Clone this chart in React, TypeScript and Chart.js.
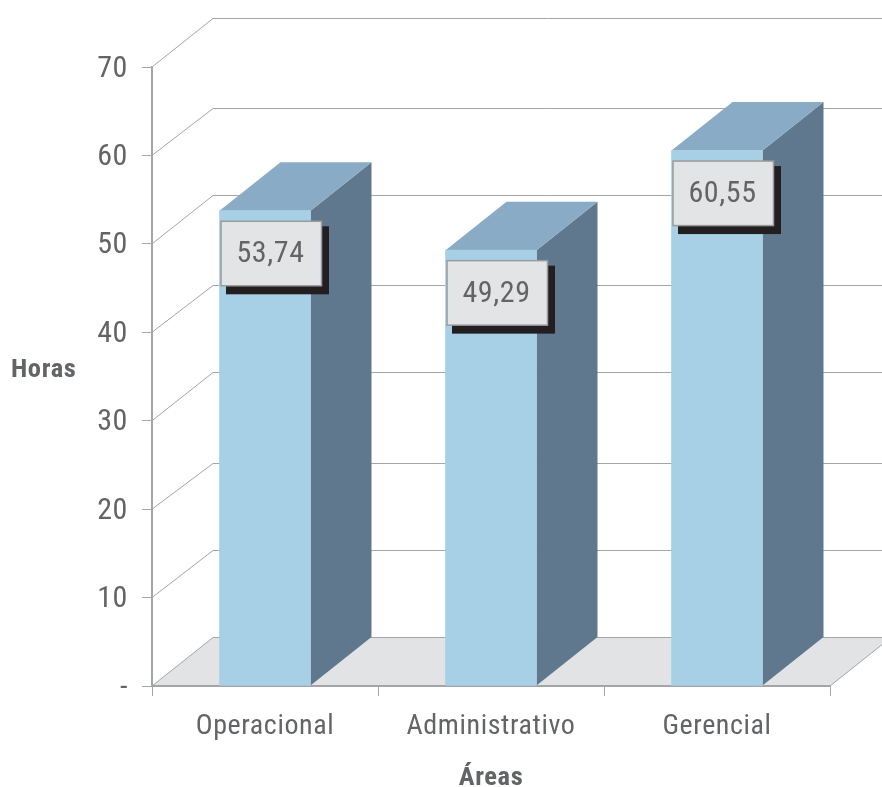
import React, { useEffect, useRef } from "react";
import { Chart, registerables } from "chart.js";

Chart.register(...registerables);

const categories = ["Operacional", "Administrativo", "Gerencial"];
const hours = [53.74, 49.29, 60.55];
const valueLabels = ["53,74", "49,29", "60,55"];
const yTicks = [0, 10, 20, 30, 40, 50, 60, 70];
const wallRise = [49, 47.6, 46, 48.7, 47, 48.8, 47.4, 49];

const FONT = "'Roboto Condensed', 'Liberation Sans', sans-serif";
const TEXT = "#636466";
const LINE = "#a3a5a8";
const DEPTH_X = 61;
const DEPTH_Y = 48.5;

const scene = {
  id: "scene",
  beforeDraw(chart: any) {
    const { ctx, scales } = chart;
    ctx.letterSpacing = "0.6px";
    const y = scales.y;
    const x = scales.x;
    const y0 = y.getPixelForValue(0);
    const W = chart.width;
    ctx.save();
    ctx.fillStyle = "#e2e3e5";
    ctx.beginPath();
    ctx.moveTo(x.left, y0);
    ctx.lineTo(x.left + DEPTH_X, y0 - DEPTH_Y);
    ctx.lineTo(x.right + DEPTH_X, y0 - DEPTH_Y);
    ctx.lineTo(x.right, y0);
    ctx.closePath();
    ctx.fill();
    ctx.strokeStyle = LINE;
    ctx.lineWidth = 1;
    yTicks.forEach((t, i) => {
      const py = y.getPixelForValue(t);
      const wy = Math.round(py - wallRise[i]) + 0.5;
      ctx.beginPath();
      ctx.moveTo(x.left, py);
      ctx.lineTo(x.left + DEPTH_X, wy);
      ctx.lineTo(W, wy);
      ctx.stroke();
    });
    ctx.beginPath();
    ctx.moveTo(x.right, y0);
    ctx.lineTo(x.right + DEPTH_X, y0 - DEPTH_Y);
    ctx.stroke();
    ctx.restore();
  },
  beforeDatasetsDraw(chart: any) {
    const { ctx } = chart;
    const bars = chart.getDatasetMeta(0).data;
    ctx.save();
    bars.forEach((b: any) => {
      const l = b.x - b.width / 2;
      const r = b.x + b.width / 2;
      ctx.fillStyle = "#5f788e";
      ctx.beginPath();
      ctx.moveTo(r, b.y);
      ctx.lineTo(r + DEPTH_X, b.y - DEPTH_Y);
      ctx.lineTo(r + DEPTH_X, b.base - DEPTH_Y);
      ctx.lineTo(r, b.base);
      ctx.closePath();
      ctx.fill();
      ctx.fillStyle = "#8aabc6";
      ctx.beginPath();
      ctx.moveTo(l, b.y);
      ctx.lineTo(l + DEPTH_X, b.y - DEPTH_Y);
      ctx.lineTo(r + DEPTH_X, b.y - DEPTH_Y);
      ctx.lineTo(r, b.y);
      ctx.closePath();
      ctx.fill();
    });
    ctx.restore();
  },
  afterDatasetsDraw(chart: any) {
    const { ctx } = chart;
    const bars = chart.getDatasetMeta(0).data;
    ctx.save();
    bars.forEach((b: any, i: number) => {
      const bx = b.x - 44;
      const by = b.y + 10.5;
      ctx.fillStyle = "#231f20";
      ctx.fillRect(bx + 5, by + 5, 103, 68);
      ctx.fillStyle = "#e3e4e6";
      ctx.strokeStyle = "#9a9b9d";
      ctx.lineWidth = 1.5;
      ctx.fillRect(bx, by, 100.5, 64.5);
      ctx.strokeRect(bx, by, 100.5, 64.5);
      ctx.fillStyle = TEXT;
      ctx.font = `30px ${FONT}`;
      ctx.textAlign = "center";
      ctx.textBaseline = "middle";
      ctx.fillText(valueLabels[i], bx + 49.5, by + 33.5);
    });
    ctx.font = `bold 26.5px ${FONT}`;
    ctx.fillStyle = TEXT;
    ctx.textAlign = "left";
    ctx.textBaseline = "middle";
    ctx.fillText("Horas", 11, 370.5);
    ctx.restore();
  },
};

export default function App() {
  const ref = useRef<HTMLCanvasElement>(null);
  useEffect(() => {
    document.body.style.margin = "0";
    const chart = new Chart(ref.current as HTMLCanvasElement, {
      type: "bar",
      data: {
        labels: categories,
        datasets: [{ data: hours, backgroundColor: "#a7cfe6", barThickness: 91, borderWidth: 0 }],
      },
      plugins: [scene],
      options: {
        responsive: false,
        animation: false,
        devicePixelRatio: 1,
        layout: { padding: { top: 67, right: 52, left: 0, bottom: 0 } },
        plugins: { legend: { display: false }, tooltip: { enabled: false }, title: { display: false } },
        scales: {
          x: {
            afterFit(s: any) { s.height = 101; },
            border: { color: LINE, width: 2 },
            grid: { display: true, drawOnChartArea: false, drawTicks: true, tickLength: 10, color: LINE, tickColor: LINE, offset: true },
            ticks: { color: TEXT, font: { family: FONT, size: 28 }, padding: 14, maxRotation: 0 },
            title: { display: true, text: "Áreas", color: TEXT, font: { family: FONT, size: 26.5, weight: "bold" }, padding: { top: 0, bottom: -7 } },
          },
          y: {
            min: 0,
            max: 70,
            afterFit(s: any) { s.width = 152; },
            border: { color: LINE, width: 2 },
            grid: { drawOnChartArea: false, drawTicks: true, tickLength: 10, color: LINE, tickColor: LINE },
            afterBuildTicks(s: any) { s.ticks = yTicks.map((value) => ({ value })); },
            ticks: {
              color: TEXT,
              font: { family: FONT, size: 30 },
              padding: 14,
              labelOffset: 2,
              callback: (v: any) => (v === 0 ? "-" : String(v)),
            },
          },
        },
      } as any,
    });
    return () => chart.destroy();
  }, []);
  return <canvas ref={ref} width={882} height={787} style={{ display: "block" }} />;
}
